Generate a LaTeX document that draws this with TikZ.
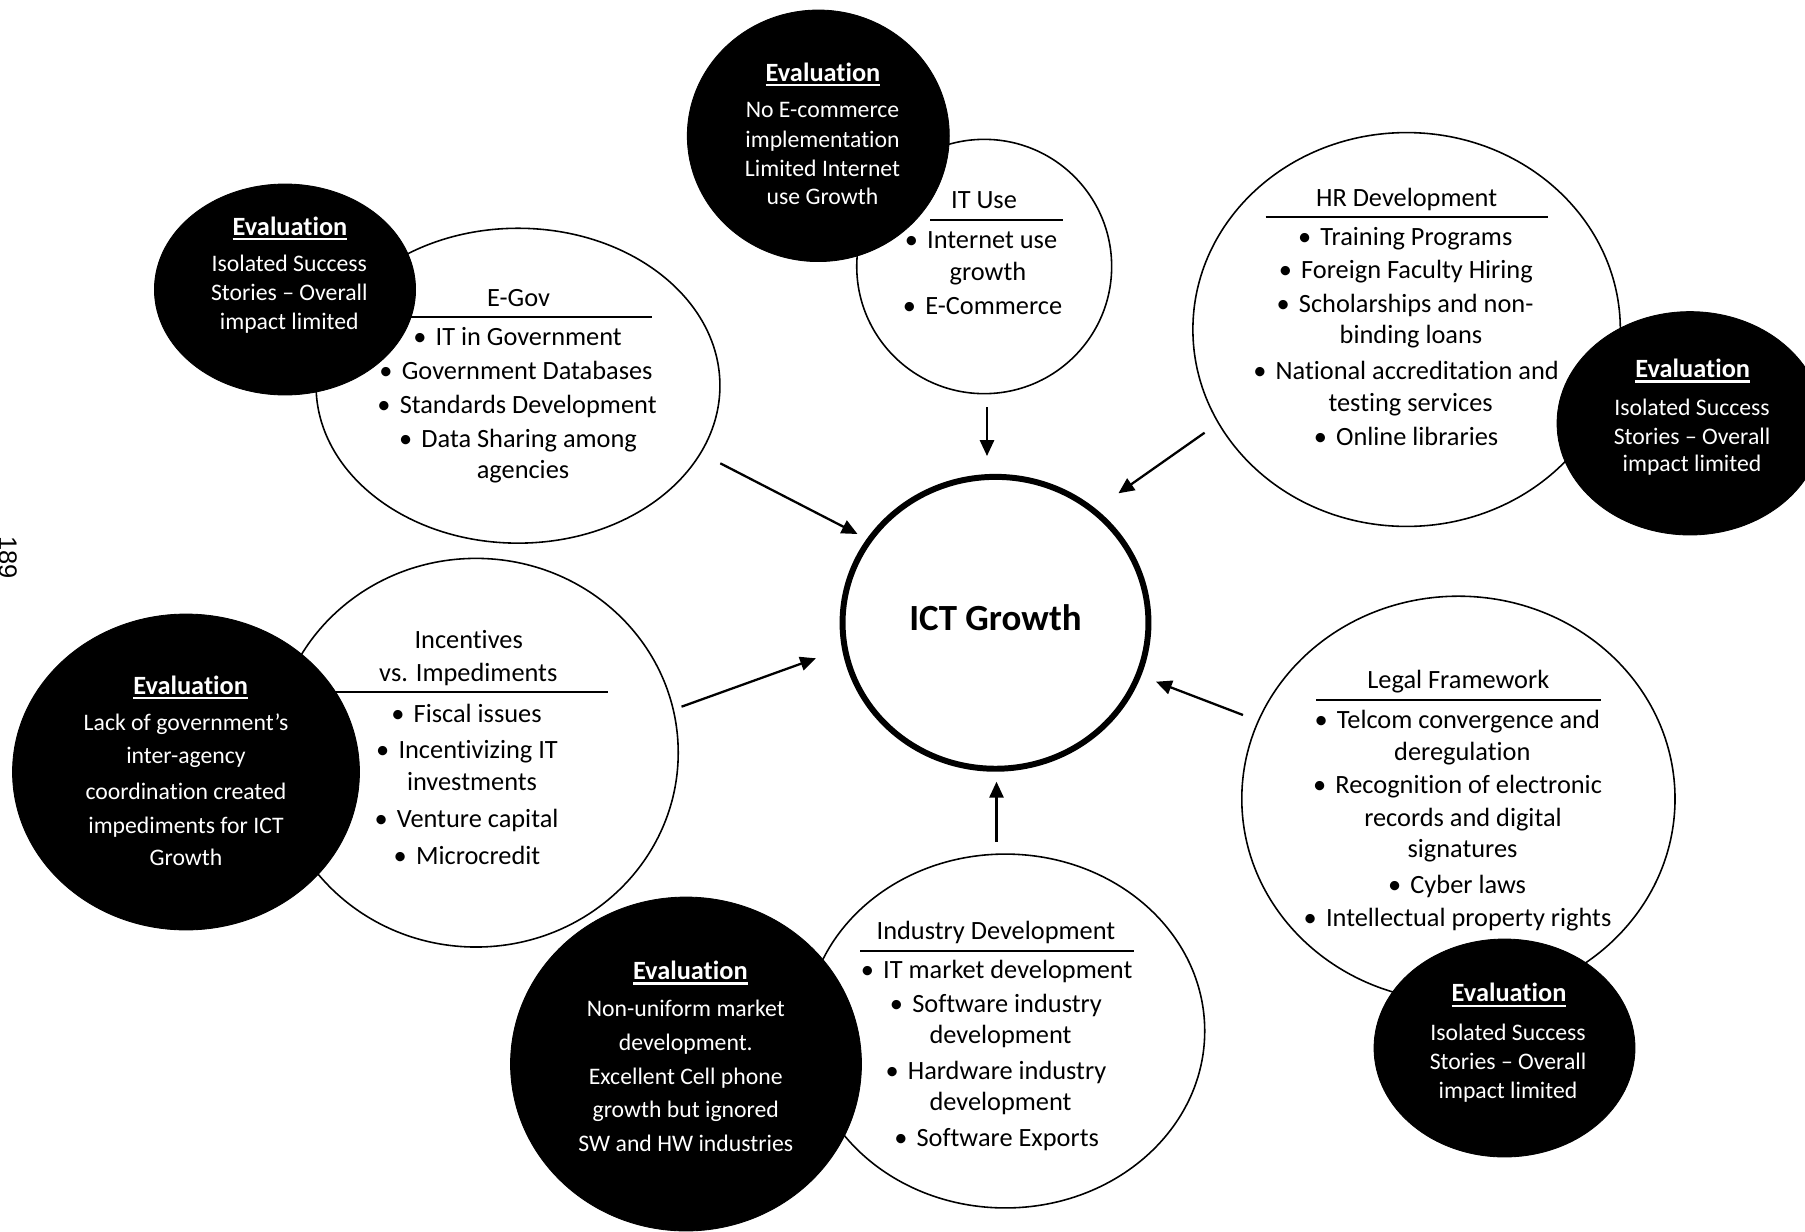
\documentclass[tikz,border=0pt]{standalone}
\usepackage{fontspec}
\setmainfont{Carlito}[Ligatures={NoCommon,NoDiscretionary,NoContextual}]
\newfontfamily\pnumfont{Liberation Sans}
\usetikzlibrary{shapes.geometric,arrows.meta}
\newcommand{\evul}[1]{\setbox0=\hbox{#1}\rlap{\rule[-3pt]{\wd0}{1.2pt}}\box0}
\newcommand{\bl}{•\hspace{0.35em}}
\tikzset{
  sz/.style 2 args={minimum width={#1*0.04cm}, minimum height={#2*0.04cm}},
  whiteell/.style={ellipse, draw=black, line width=0.9pt, fill=white, inner sep=0pt},
  blackell/.style={ellipse, draw=black, fill=black, line width=0.5pt, inner sep=0pt},
  ictell/.style={ellipse, draw=black, line width=3.4pt, fill=white, inner sep=0pt},
  body/.style={anchor=base, inner sep=0pt, font=\fontsize{15}{18}\selectfont},
  evtxt/.style={anchor=base, inner sep=0pt, text=white, font=\fontsize{13.5}{16}\selectfont},
  evhd/.style={anchor=base, inner sep=0pt, text=white, font=\fontsize{15}{18}\selectfont\bfseries},
  icttxt/.style={anchor=base, inner sep=0pt, font=\fontsize{21}{25}\selectfont\bfseries},
  trule/.style={line width=1pt},
  arr/.style={line width=1.3pt, -{Triangle[length=9pt,width=8pt]}},
}
\begin{document}
\begin{tikzpicture}[x=0.02cm,y=-0.02cm]
\useasboundingbox (0,0) rectangle (1805,1231);

% ---------- white topic ellipses ----------
\node[whiteell, sz={127.5}{127.2}] (ITuse) at (984.2,266.5) {};
\node[whiteell, sz={202}{157.5}]   (EGov)  at (518,385.7) {};
\node[whiteell, sz={213.8}{197}]   (HR)    at (1406.6,329.5) {};
\node[whiteell, sz={202.3}{194.4}] (Inc)   at (476,752.7) {};
\node[whiteell, sz={216.7}{202.7}] (Legal) at (1458.4,798.8) {};
\node[whiteell, sz={199.5}{177}]   (Ind)   at (1005.3,1031) {};
\node[ictell,   sz={153}{146}]     (ICT)   at (995.5,622.8) {};

% ---------- black evaluation ellipses ----------
\node[blackell, sz={131}{125.8}]   (evTop) at (818.3,135.8) {};
\node[blackell, sz={130.6}{105.5}] (evTL)  at (285,289.5) {};
\node[blackell, sz={133}{111.7}]   (evR)   at (1690,423.3) {};
\node[blackell, sz={173.5}{158}]   (evL)   at (186,772) {};
\node[blackell, sz={130.5}{109}]   (evBR)  at (1504.5,1048) {};
\node[blackell, sz={175.5}{167}]   (evB)   at (686,1064) {};

% ---------- centre ----------
\node[icttxt] (ictT) at (995.5,630) {ICT Growth};

% ---------- IT Use ----------
\node[body] (itT) at (984,208) {IT Use};
\coordinate (itL) at (930,220); \coordinate (itR) at (1063,220);
\draw[trule] (itL) -- (itR);
\node[body] (it1) at (981,248) {\bl Internet use};
\node[body] (it2) at (988,280) {growth};
\node[body] (it3) at (982.5,314) {\bl E-Commerce};

% ---------- Eval top ----------
\node[evhd]  (evTh) at (823,81) {\evul{Evaluation}};
\node[evtxt] (evT1) at (822.5,117) {No E-commerce};
\node[evtxt] (evT2) at (822.5,147) {implementation};
\node[evtxt] (evT3) at (822.5,176) {Limited Internet};
\node[evtxt] (evT4) at (822.5,204) {use Growth};

% ---------- E-Gov ----------
\node[body] (egT) at (518.5,306.7) {E-Gov};
\coordinate (egL) at (409,317.3); \coordinate (egR) at (652,317.3);
\draw[trule] (egL) -- (egR);
\node[body] (eg1) at (517.5,345.7) {\bl IT in Government};
\node[body] (eg2) at (516,379.3) {\bl Government Databases};
\node[body] (eg3) at (517,413.3) {\bl Standards Development};
\node[body] (eg4) at (518,447.7) {\bl Data Sharing among};
\node[body] (eg5) at (523,478.3) {agencies};

% ---------- Eval top-left ----------
\node[evhd]  (evTLh) at (290,235) {\evul{Evaluation}};
\node[evtxt] (evTL1) at (289.3,271.7) {Isolated Success};
\node[evtxt] (evTL2) at (289.3,300.7) {Stories – Overall};
\node[evtxt] (evTL3) at (289.3,329) {impact limited};

% ---------- HR Development ----------
\node[body] (hrT) at (1406.6,206) {HR Development};
\coordinate (hrL) at (1265.7,217.3); \coordinate (hrR) at (1547.5,217.3);
\draw[trule] (hrL) -- (hrR);
\node[body] (hr1) at (1405.2,245) {\bl Training Programs};
\node[body] (hr2) at (1405.8,278.3) {\bl Foreign Faculty Hiring};
\node[body] (hr3) at (1405,312.7) {\bl Scholarships and non-};
\node[body] (hr4) at (1411,343.3) {binding loans};
\node[body] (hr5) at (1406,379.3) {\bl National accreditation and};
\node[body] (hr6) at (1410.6,411) {testing services};
\node[body] (hr7) at (1406,445) {\bl Online libraries};

% ---------- Eval right ----------
\node[evhd]  (evRh) at (1692.7,377.3) {\evul{Evaluation}};
\node[evtxt] (evR1) at (1692,415) {Isolated Success};
\node[evtxt] (evR2) at (1692,444) {Stories – Overall};
\node[evtxt] (evR3) at (1692,471.7) {impact limited};

% ---------- Incentives ----------
\node[body] (inT1) at (468.7,648.3) {Incentives};
\node[body] (inT2) at (468.3,681.7) {vs. Impediments};
\coordinate (inL) at (334.8,691.7); \coordinate (inR) at (608,691.7);
\draw[trule] (inL) -- (inR);
\node[body] (in1) at (466.5,722.7) {\bl Fiscal issues};
\node[body] (in2) at (467,758.3) {\bl Incentivizing IT};
\node[body] (in3) at (472,790.7) {investments};
\node[body] (in4) at (466.5,827.3) {\bl Venture capital};
\node[body] (in5) at (467,864) {\bl Microcredit};

% ---------- Eval left ----------
\node[evhd]  (evLh) at (190.6,694) {\evul{Evaluation}};
\node[evtxt] (evL1) at (186,730) {Lack of government’s};
\node[evtxt] (evL2) at (186,763.3) {inter-agency};
\node[evtxt] (evL3) at (186,799.3) {coordination created};
\node[evtxt] (evL4) at (186,833.3) {impediments for ICT};
\node[evtxt] (evL5) at (186,865) {Growth};

% ---------- Legal Framework ----------
\node[body] (lgT) at (1458.3,688.3) {Legal Framework};
\coordinate (lgL) at (1316,700); \coordinate (lgR) at (1600.7,700);
\draw[trule] (lgL) -- (lgR);
\node[body] (lg1) at (1457.2,728) {\bl Telcom convergence and};
\node[body] (lg2) at (1462.3,760) {deregulation};
\node[body] (lg3) at (1457.5,793.3) {\bl Recognition of electronic};
\node[body] (lg4) at (1463,826.5) {records and digital};
\node[body] (lg5) at (1462.5,857.7) {signatures};
\node[body] (lg6) at (1457,893) {\bl Cyber laws};
\node[body] (lg7) at (1457.5,926) {\bl Intellectual property rights};

% ---------- Eval bottom-right ----------
\node[evhd]  (evBRh) at (1509,1001.5) {\evul{Evaluation}};
\node[evtxt] (evBR1) at (1508,1040) {Isolated Success};
\node[evtxt] (evBR2) at (1508,1069.4) {Stories – Overall};
\node[evtxt] (evBR3) at (1508,1098.7) {impact limited};

% ---------- Industry Development ----------
\node[body] (idT) at (995.9,939.3) {Industry Development};
\coordinate (idL) at (860.4,950.7); \coordinate (idR) at (1133.6,950.7);
\draw[trule] (idL) -- (idR);
\node[body] (id1) at (996.6,978.3) {\bl IT market development};
\node[body] (id2) at (995.9,1012.7) {\bl Software industry};
\node[body] (id3) at (1000.5,1043.3) {development};
\node[body] (id4) at (995.9,1079.3) {\bl Hardware industry};
\node[body] (id5) at (1000.5,1110) {development};
\node[body] (id6) at (996.6,1146) {\bl Software Exports};

% ---------- Eval bottom ----------
\node[evhd]  (evBh) at (690.3,979.3) {\evul{Evaluation}};
\node[evtxt] (evB1) at (685.8,1016.7) {Non-uniform market};
\node[evtxt] (evB2) at (685.8,1050.7) {development.};
\node[evtxt] (evB3) at (685.8,1084) {Excellent Cell phone};
\node[evtxt] (evB4) at (685.8,1117.3) {growth but ignored};
\node[evtxt] (evB5) at (685.8,1151.7) {SW and HW industries};

% ---------- arrows ----------
\coordinate (a1s) at (987,407);     \coordinate (a1e) at (987,456);
\coordinate (a2s) at (720.3,463.3); \coordinate (a2e) at (857.5,534);
\coordinate (a3s) at (1204.6,432.7);\coordinate (a3e) at (1118.4,493.3);
\coordinate (a4s) at (681.5,706.7); \coordinate (a4e) at (816,658.3);
\coordinate (a5s) at (1243,715);    \coordinate (a5e) at (1156,681.7);
\coordinate (a6s) at (996.5,841.7); \coordinate (a6e) at (996.5,781.7);
\draw[arr] (a1s) -- (a1e);
\draw[arr] (a2s) -- (a2e);
\draw[arr] (a3s) -- (a3e);
\draw[arr] (a4s) -- (a4e);
\draw[arr] (a5s) -- (a5e);
\draw[arr] (a6s) -- (a6e);

% ---------- page number ----------
\node[rotate=-90, anchor=base west, inner sep=0pt, font=\pnumfont\fontsize{14.5}{16}\selectfont] (pg) at (-1,536) {189};
\end{tikzpicture}
\end{document}
